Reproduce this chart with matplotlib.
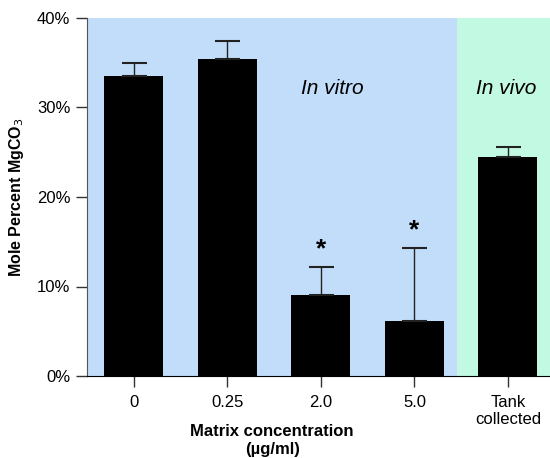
import matplotlib.pyplot as plt
import numpy as np

plt.rcParams['font.family'] = ['Liberation Sans', 'DejaVu Sans']

categories = ["0", "0.25", "2.0", "5.0", "Tank\ncollected"]
means = [33.5, 35.4, 9.1, 6.2, 24.5]
errors = [1.5, 2.0, 3.1, 8.1, 1.1]
starred = [False, False, True, True, False]

fig = plt.figure(figsize=(5.5, 4.58), dpi=100)
ax = fig.add_axes([87/550, 1 - 376/458, (550-87)/550, (376-18)/458])

x = np.arange(len(categories))
xmin, xmax = -0.502, 4.45
split = 3.45
ax.axvspan(xmin, split, color="#c2ddf9", zorder=0, lw=0)
ax.axvspan(split, xmax, color="#c2f9e2", zorder=0, lw=0)

ax.bar(x, means, width=0.63, color="black", zorder=2)
ax.errorbar(x, means, yerr=[np.zeros(len(x)), errors], fmt="none",
            ecolor="#222222", elinewidth=1, capsize=9, capthick=1.5, zorder=3)

for xi, m, e, s in zip(x, means, errors, starred):
    if s:
        ax.text(xi, m + e + 0.6, "*", ha="center", va="bottom", fontsize=19, fontweight="bold")

ax.text(2.12, 32.1, "In vitro", style="italic", fontsize=15, ha="center", va="center")
ax.text(3.98, 32.1, "In vivo", style="italic", fontsize=15, ha="center", va="center")

ax.set_xlim(xmin, xmax)
ax.set_ylim(0, 40)
ax.set_xticks(x)
ax.set_xticklabels(categories, fontsize=12, linespacing=1.15)
ax.set_yticks([0, 10, 20, 30, 40])
ax.set_yticklabels(["0%", "10%", "20%", "30%", "40%"], fontsize=12)
ax.tick_params(direction="out", length=8, width=1, color="#333333", pad=4)
ax.tick_params(axis="x", pad=6)
for sp in ["top", "right"]:
    ax.spines[sp].set_visible(False)
ax.spines["left"].set_color("#555555")
ax.spines["bottom"].set_color("black")

ax.set_ylabel("Mole Percent MgCO$_3$", fontsize=11.5, fontweight="bold", labelpad=8)
ax.set_xlabel("Matrix concentration\n(µg/ml)", fontsize=12, fontweight="bold", labelpad=-2, linespacing=1.25)
ax.xaxis.set_label_coords(0.40, -0.135)

fig.savefig("out.png", dpi=100)
